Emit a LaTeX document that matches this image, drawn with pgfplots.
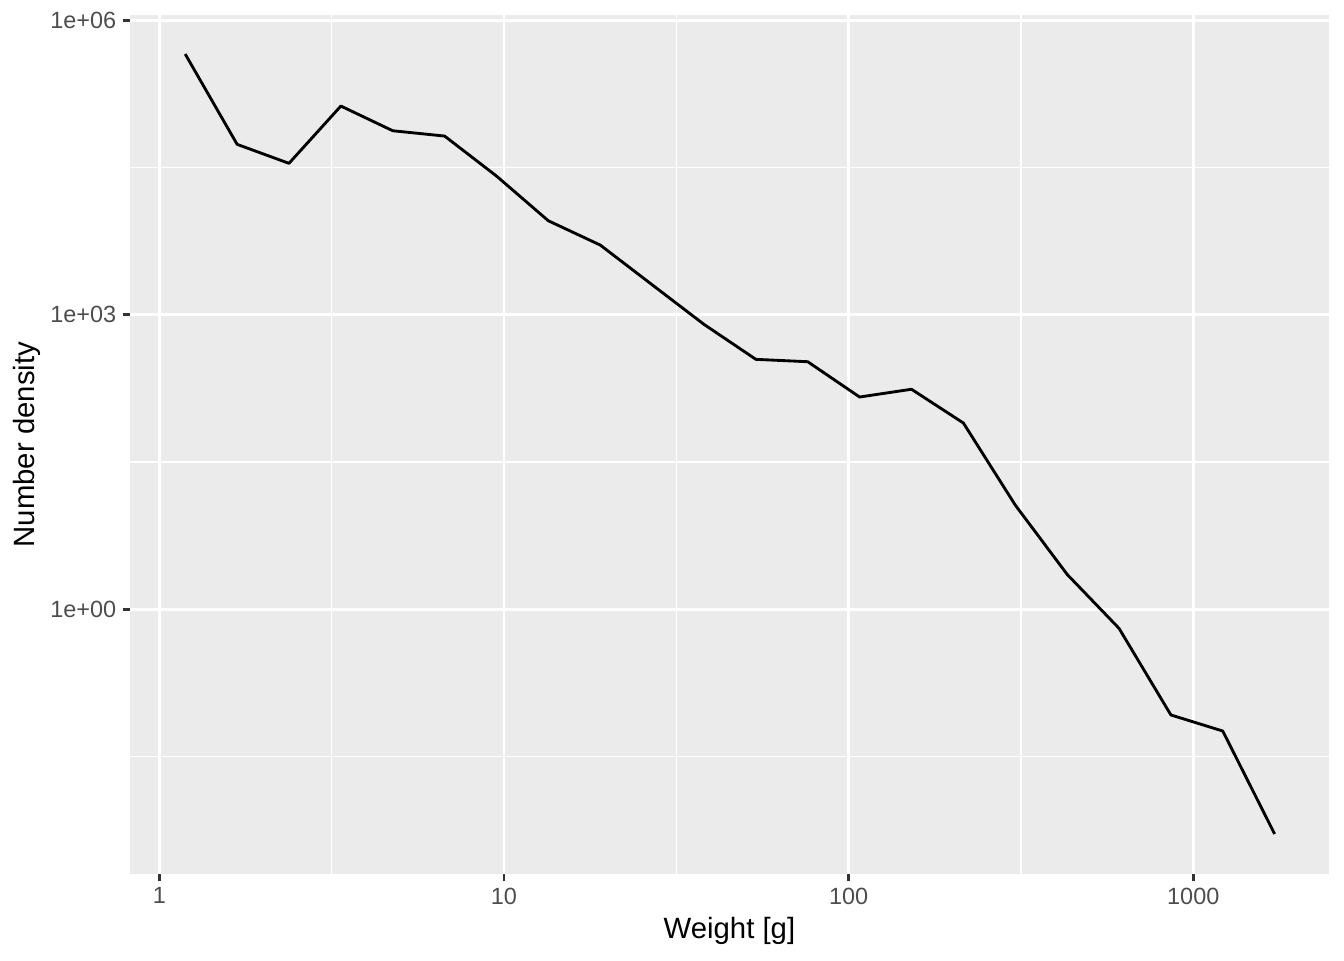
\documentclass[border=0pt]{standalone}
\usepackage{pgfplots}
\pgfplotsset{compat=1.18}
\usepackage{fontspec}
\setmainfont{Liberation Sans}
\definecolor{ggbg}{HTML}{EBEBEB}
\definecolor{gg30}{HTML}{4D4D4D}
\definecolor{gg20}{HTML}{333333}
\begin{document}
\begin{tikzpicture}
\begin{axis}[
  at={(0,0)}, anchor=south west,
  scale only axis,
  width=449.6pt, height=322.1pt,
  xmode=log, ymode=log,
  xmin=0.8222, xmax=2475,
  ymin=0.0019966, ymax=1.132e6,
  axis background/.style={fill=ggbg},
  axis x line*=bottom, axis y line*=left,
  axis line style={draw=none},
  xtick={1,10,100,1000},
  xticklabels={1,10,100,1000},
  ytick={1,1000,1000000},
  yticklabels={1e+00,1e+03,1e+06},
  minor xtick={3.16228,31.6228,316.228},
  minor ytick={0.0316228,31.6228,31622.8},
  grid=both,
  major grid style={white, line width=1.07pt},
  minor grid style={white, line width=0.53pt},
  tick align=outside,
  major tick length=2.75pt,
  minor tick length=0pt,
  tick style={gg20, line width=1.07pt},
  tick label style={font=\fontsize{8.8}{10}\selectfont, text=gg30},
  xticklabel style={inner sep=0pt, yshift=-2.2pt},
  yticklabel style={inner sep=0pt, xshift=-2.2pt},
  label style={font=\fontsize{11}{13}\selectfont},
  xlabel={Weight [g]},
  ylabel={Number density},
  xlabel style={at={(axis description cs:0.5,-0.0666)}, anchor=center},
  ylabel style={at={(axis description cs:-0.0859,0.5)}, anchor=center},
]
\addplot[black, line width=1.07pt, line join=round] coordinates {
(1.189,453700)
(1.682,54500)
(2.378,34900)
(3.364,133900)
(4.757,74990)
(6.727,66200)
(9.514,25900)
(13.45,9070)
(19.03,5130)
(26.91,2020)
(38.05,798)
(53.82,351)
(76.11,332)
(107.6,145)
(152.2,174)
(215.3,78.8)
(304.4,11.5)
(430.5,2.26)
(608.9,0.637)
(861.1,0.0834)
(1217.8,0.0572)
(1722.2,0.00511)
};
\end{axis}
\pgfresetboundingbox
\useasboundingbox (-48.75pt,-32.25pt) rectangle (455.25pt,327.75pt);
\end{tikzpicture}
\end{document}
